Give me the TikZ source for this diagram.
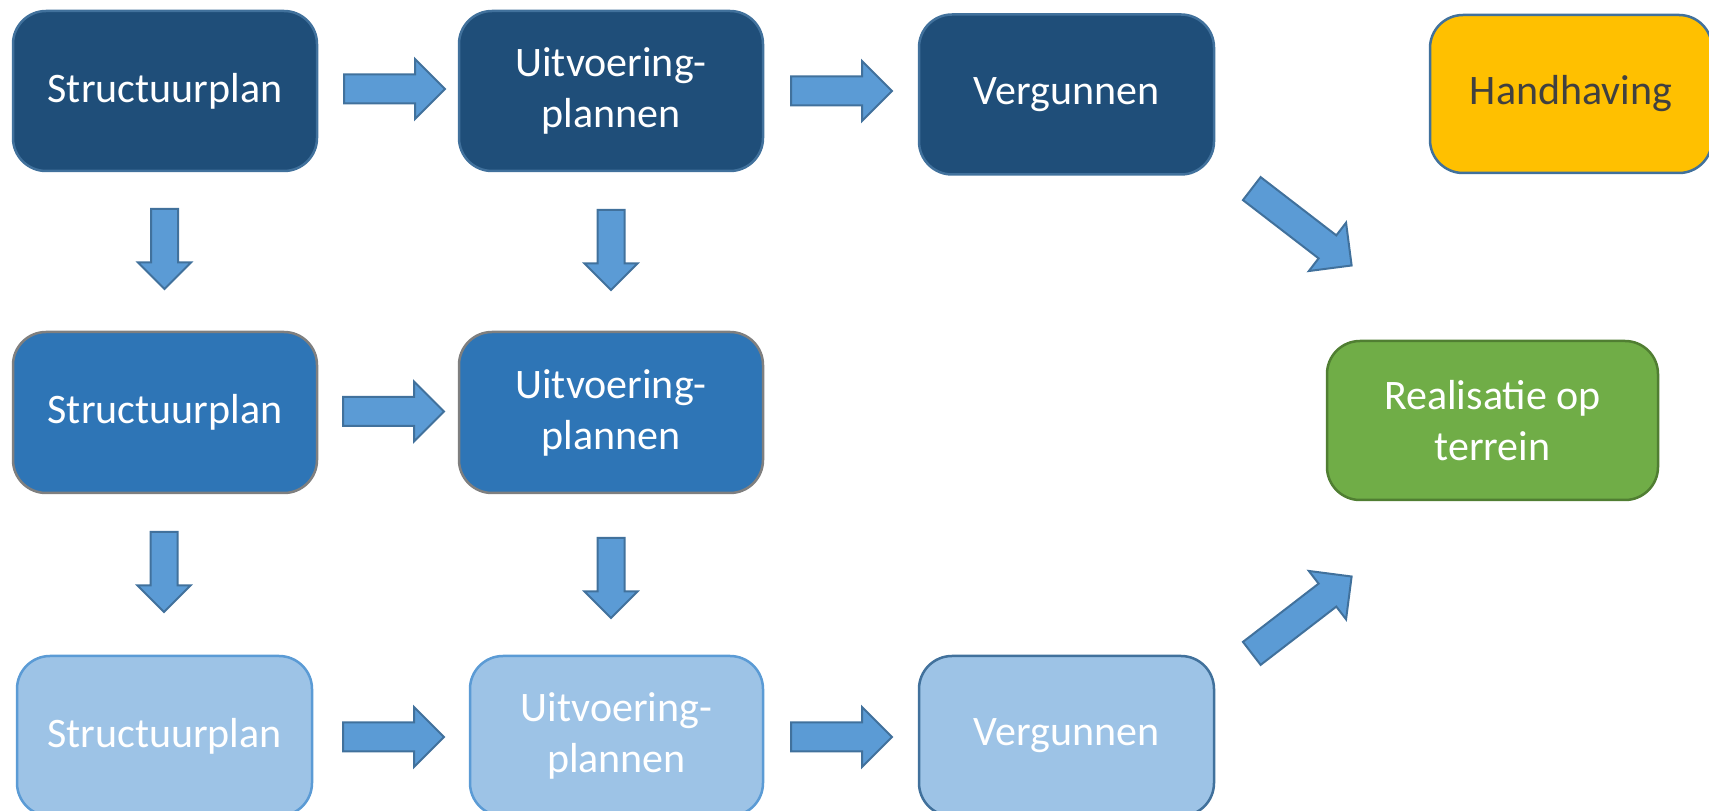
\documentclass[tikz,border=0pt]{standalone}
\usepackage{fontspec}
\setmainfont{Carlito}
\usetikzlibrary{shapes.arrows}

\definecolor{plandark}{HTML}{1F4E79}
\definecolor{planmid}{HTML}{2E75B6}
\definecolor{planlight}{HTML}{9DC3E6}
\definecolor{edgedark}{HTML}{41719C}
\definecolor{edgelight}{HTML}{5B9BD5}
\definecolor{edgegrey}{HTML}{7F7F7F}
\definecolor{arrowfill}{HTML}{5B9BD5}
\definecolor{handhaving}{HTML}{FFC000}
\definecolor{realisatie}{HTML}{70AD47}
\definecolor{realedge}{HTML}{507E32}

\begin{document}
\begin{tikzpicture}[x=1pt,y=1pt,
  box/.style={rectangle,rounded corners=33pt,line width=2.5pt,minimum width=304pt,minimum height=160pt,
              align=center,text=white,font=\fontsize{42}{51}\selectfont},
  level1/.style={box,fill=plandark,draw=edgedark},
  level2/.style={box,fill=planmid,draw=edgegrey},
  level3/.style={box,fill=planlight,draw=edgelight},
  block/.style={single arrow,single arrow tip angle=90,fill=arrowfill,draw=edgedark,line width=2pt,
                inner xsep=0pt,anchor=tail},
  hblock/.style={block,minimum height=101pt,inner ysep=13.5pt,single arrow head extend=15.5pt},
  vblock/.style={block,rotate=-90,minimum height=80pt,inner ysep=12.5pt,single arrow head extend=13pt},
  dblock/.style={block,minimum height=126pt,inner ysep=13.5pt,single arrow head extend=16pt}]
  \useasboundingbox (0,0) rectangle (1709,811);

  % top row
  \node[level1]                    (s1) at (165,720)    {Structuurplan};
  \node[level1]                    (u1) at (611,720)    {Uitvoering-\\plannen};
  \node[level1,minimum width=295pt] (v1) at (1066.5,716.5) {Vergunnen};
  \node[box,fill=handhaving,draw=edgedark,text=black!75,minimum width=282pt,minimum height=158pt]
                                   (hh) at (1571,717)   {Handhaving};

  % middle row
  \node[level2,minimum height=161pt] (s2) at (165,398.5) {Structuurplan};
  \node[level2,minimum height=161pt] (u2) at (611,398.5) {Uitvoering-\\plannen};
  \node[box,fill=realisatie,draw=realedge,minimum width=331pt,minimum height=159pt]
                                   (rt) at (1492.5,390.5) {Realisatie op\\terrein};

  % bottom row
  \node[level3,minimum width=295pt] (s3) at (164.5,75) {Structuurplan};
  \node[level3,minimum width=293pt] (u3) at (616.5,75) {Uitvoering-\\plannen};
  \node[level3,draw=edgedark,minimum width=295pt] (v3) at (1066.5,75) {Vergunnen};

  % block arrows, placed by their tails
  \node[hblock] (a1) at (343,722)   {};
  \node[hblock] (a2) at (790,720)   {};
  \node[hblock] (a3) at (342,399.5) {};
  \node[hblock] (a4) at (342,74)    {};
  \node[hblock] (a5) at (790,74)    {};
  \node[vblock] (d1) at (164.5,603) {};
  \node[vblock] (d2) at (611,602)   {};
  \node[vblock] (d3) at (164,280)   {};
  \node[vblock] (d4) at (611,274)   {};
  \node[dblock,rotate=-37.6] (g1) at (1251,623) {};
  \node[dblock,rotate=37.6]  (g2) at (1251,157) {};
\end{tikzpicture}
\end{document}
